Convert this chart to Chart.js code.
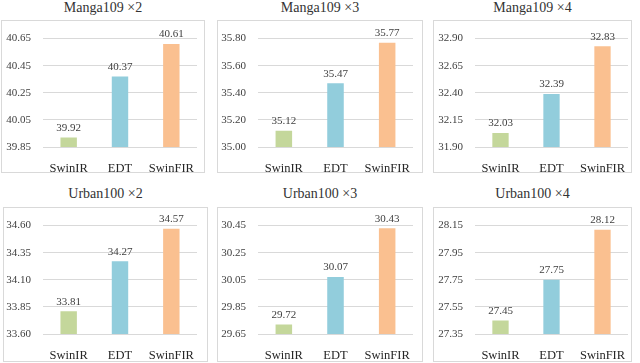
<!DOCTYPE html>
<html>
<head>
<meta charset="utf-8">
<script src="https://cdn.jsdelivr.net/npm/chart.js@4/dist/chart.umd.min.js"></script>
<style>
  html, body { margin: 0; padding: 0; background: #fff; }
  body { width: 640px; height: 363px; position: relative; overflow: hidden; font-family: 'Times New Roman', 'Liberation Serif', Tinos, Times, serif; }
  .title { position: absolute; text-align: center; font-size: 14px; font-weight: normal; color: #333; white-space: nowrap; }
  .box { position: absolute; border: 1px solid #D9D9D9; box-sizing: border-box; }
  canvas { position: absolute; }
</style>
</head>
<body>
<script>
// ---- data ----
const categories = ['SwinIR', 'EDT', 'SwinFIR'];
const titles = ['Manga109 ×2', 'Manga109 ×3', 'Manga109 ×4', 'Urban100 ×2', 'Urban100 ×3', 'Urban100 ×4'];

const manga109x2 = [39.92, 40.37, 40.61];
const manga109x3 = [35.12, 35.47, 35.77];
const manga109x4 = [32.03, 32.39, 32.83];
const urban100x2 = [33.81, 34.27, 34.57];
const urban100x3 = [29.72, 30.07, 30.43];
const urban100x4 = [27.45, 27.75, 28.12];

const ticksManga109x2 = [39.85, 40.05, 40.25, 40.45, 40.65];
const ticksManga109x3 = [35.00, 35.20, 35.40, 35.60, 35.80];
const ticksManga109x4 = [31.90, 32.15, 32.40, 32.65, 32.90];
const ticksUrban100x2 = [33.60, 33.85, 34.10, 34.35, 34.60];
const ticksUrban100x3 = [29.65, 29.85, 30.05, 30.25, 30.45];
const ticksUrban100x4 = [27.35, 27.55, 27.75, 27.95, 28.15];

const seriesList = [manga109x2, manga109x3, manga109x4, urban100x2, urban100x3, urban100x4];
const tickList = [ticksManga109x2, ticksManga109x3, ticksManga109x4, ticksUrban100x2, ticksUrban100x3, ticksUrban100x4];

// ---- layout / style ----
const barColors = ['#C4D79B', '#92CDDC', '#FAC090'];
const panels = [
  { left: 1,   top: 20,  w: 204, h: 153, lp: 42, rp: 8,  tp: 12, bp: 26, ty: 0 },
  { left: 217, top: 20,  w: 206, h: 153, lp: 41, rp: 10, tp: 12, bp: 26, ty: 0 },
  { left: 433, top: 20,  w: 199, h: 153, lp: 42, rp: 4,  tp: 12, bp: 26, ty: 0 },
  { left: 3,   top: 207, w: 205, h: 155, lp: 40, rp: 11, tp: 10, bp: 28, ty: 186 },
  { left: 217, top: 207, w: 206, h: 155, lp: 41, rp: 10, tp: 10, bp: 28, ty: 186 },
  { left: 433, top: 207, w: 199, h: 155, lp: 42, rp: 4,  tp: 10, bp: 28, ty: 186 }
];
const serif = "'Times New Roman', 'Liberation Serif', Tinos, Times, serif";

const valueLabels = {
  id: 'valueLabels',
  afterDatasetsDraw(chart) {
    const ctx = chart.ctx;
    const meta = chart.getDatasetMeta(0);
    ctx.save();
    ctx.font = "normal 11px " + serif;
    ctx.fillStyle = '#404040';
    ctx.textAlign = 'center';
    ctx.textBaseline = 'bottom';
    meta.data.forEach((bar, i) => {
      const v = chart.data.datasets[0].data[i];
      ctx.fillText(v.toFixed(2), bar.x, bar.y - 4);
    });
    ctx.restore();
  }
};

panels.forEach((p, idx) => {
  const t = document.createElement('div');
  t.className = 'title';
  t.textContent = titles[idx];
  t.style.left = p.left + 'px';
  t.style.width = p.w + 'px';
  t.style.top = p.ty + 'px';
  document.body.appendChild(t);

  const b = document.createElement('div');
  b.className = 'box';
  b.style.left = p.left + 'px';
  b.style.top = p.top + 'px';
  b.style.width = p.w + 'px';
  b.style.height = p.h + 'px';
  document.body.appendChild(b);

  const c = document.createElement('canvas');
  c.width = p.w; c.height = p.h;
  c.style.left = p.left + 'px';
  c.style.top = p.top + 'px';
  c.style.width = p.w + 'px';
  c.style.height = p.h + 'px';
  document.body.appendChild(c);

  const tv = tickList[idx];
  new Chart(c, {
    type: 'bar',
    data: {
      labels: categories,
      datasets: [{
        data: seriesList[idx],
        backgroundColor: barColors,
        borderWidth: 0,
        barPercentage: 0.32,
        categoryPercentage: 1
      }]
    },
    options: {
      responsive: false,
      animation: false,
      devicePixelRatio: 1,
      font: { family: serif },
      layout: { padding: { left: 0, right: p.rp, top: p.tp, bottom: 0 } },
      plugins: { legend: { display: false }, tooltip: { enabled: false }, title: { display: false } },
      scales: {
        x: {
          grid: { display: false },
          border: { display: false },
          ticks: { font: { family: serif, size: 12.5 }, color: '#262626', padding: 6, maxRotation: 0 },
          afterFit(s) { s.height = p.bp; }
        },
        y: {
          min: tv[0],
          max: tv[tv.length - 1],
          afterBuildTicks(s) { s.ticks = tv.map(v => ({ value: v })); },
          ticks: {
            font: { family: serif, size: 11 },
            color: '#404040',
            padding: 12,
            callback: v => Number(v).toFixed(2)
          },
          grid: { color: '#D9D9D9', drawTicks: false, lineWidth: 1 },
          border: { display: false },
          afterFit(s) { s.width = p.lp; }
        }
      }
    },
    plugins: [valueLabels]
  });
});
</script>
</body>
</html>
